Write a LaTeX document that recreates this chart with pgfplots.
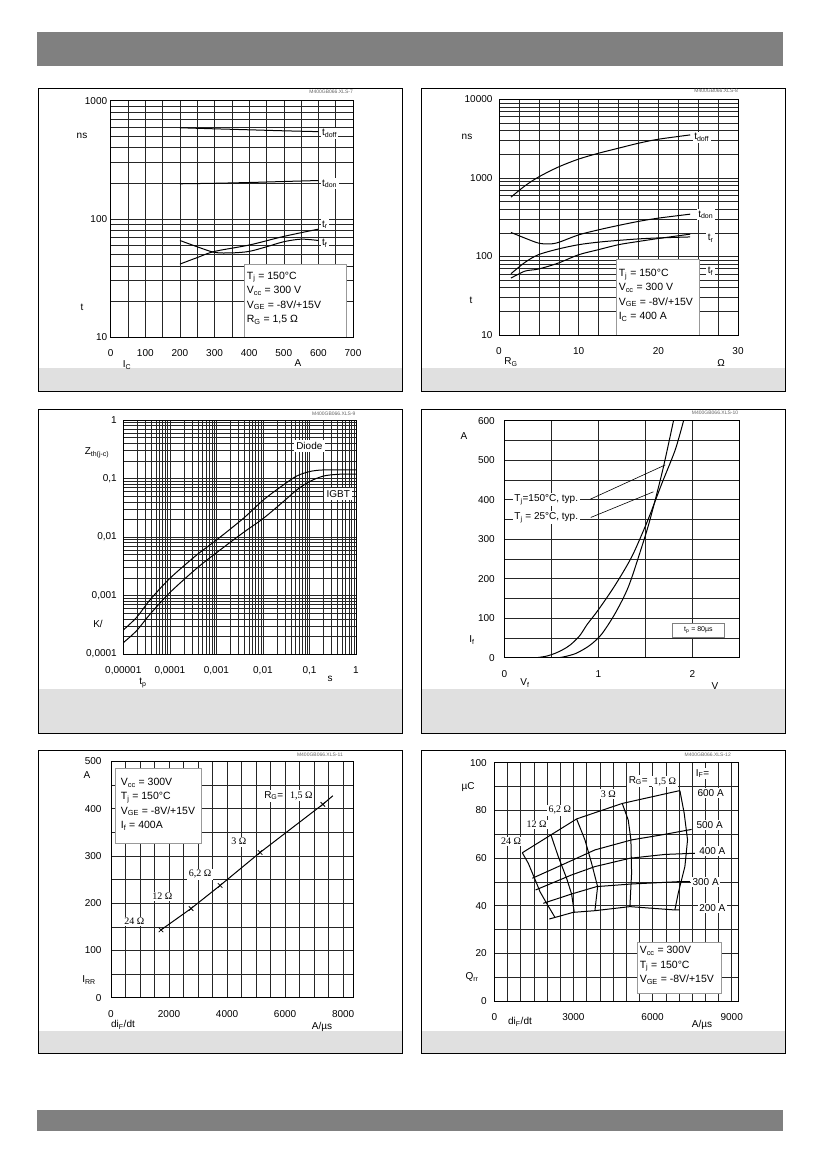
\documentclass[border=0pt]{standalone}
\usepackage{fontspec}
\setmainfont{Liberation Sans}
\newfontfamily\tms{Liberation Serif}
\usepackage{pgfplots}
\pgfplotsset{compat=1.18}
\newcommand{\sub}[1]{\textsubscript{#1}}
\newcommand{\fa}{\fontsize{10}{12}\selectfont}
\newcommand{\fb}{\fontsize{10.5}{14.4}\selectfont}
\newcommand{\fs}{\fontsize{5}{6}\selectfont}
\newcommand{\ft}{\tms\fontsize{10}{12}\selectfont}
\definecolor{hdr}{gray}{0.5}
\definecolor{strip}{gray}{0.88}
\pgfplotsset{
 dsheet/.style={
  scale only axis, anchor=south west,
  axis line style={line width=0.8pt},
  grid=both,
  major grid style={black!85,line width=0.5pt},
  minor grid style={black!85,line width=0.5pt},
  major tick length=0pt, minor tick length=0pt,
  ticklabel style={font=\fa},
  xticklabel style={yshift=-9pt},
  /pgf/number format/assume math mode=true,
  /pgf/number format/1000 sep={},
 },
 cv/.style={black, line width=1pt},
}
\tikzset{lab/.style={fill=white, inner sep=1.5pt, font=\fa}}
\begin{document}
\begin{tikzpicture}[x=1pt,y=1pt]
\path[use as bounding box] (0,0) rectangle (826,1169);
\fill[white] (0,0) rectangle (826,1169);
\fill[hdr] (37,1103) rectangle (783,1137);
\fill[hdr] (37,38) rectangle (783,59);
\foreach \x in {38,421} {
  \foreach \yb/\yt/\g in {778/1081/801, 436/760/480, 116/419/138} {
    \fill[strip] (\x,\yb) rectangle (\x+364,\g);
    \draw[line width=0.8pt] (\x,\yb) rectangle (\x+364,\yt);
  }
}
% ---------------- chart 1
\begin{axis}[dsheet, at={(110.7pt,832pt)}, width=242.3pt, height=236.3pt,
 xmin=0, xmax=700, ymode=log, ymin=10, ymax=1000,
 xtick={0,100,...,700}, minor x tick num=1,
 ytick={10,100,1000}, yticklabels={10,100,1000},
 minor ytick={20,30,40,50,60,70,80,90,200,300,400,500,600,700,800,900}]
\addplot[cv, smooth] coordinates {(200,590) (300,578) (400,567) (500,556) (600,547)};
\addplot[cv, smooth] coordinates {(200,198) (300,200) (400,203) (500,207) (600,211)};
\addplot[cv, smooth] coordinates {(200,41.4) (250,47) (300,53) (400,60) (500,71) (600,81.8)};
\addplot[cv, smooth] coordinates {(200,65.6) (250,58) (300,52) (350,51.5) (400,53) (450,58) (500,64) (550,67.3) (600,65.6)};
\node[lab, anchor=west] at (axis cs:606,530) {t\sub{doff}};
\node[lab, anchor=west] at (axis cs:606,198) {t\sub{don}};
\node[lab, anchor=west] at (axis cs:606,89) {t\sub{r}};
\node[lab, anchor=west] at (axis cs:606,62) {t\sub{f}};
\draw[fill=white, draw=black!40] (axis cs:387,10) rectangle (axis cs:679,41.7);
\node[anchor=north west, align=left, font=\fb, inner sep=0pt, xshift=2pt, yshift=-8pt] at (axis cs:387,41.7)
 {T\sub{j} = 150°C\\ V\sub{cc} = 300 V\\ V\sub{GE} = -8V/+15V\\ R\sub{G} = 1,5 Ω};
\draw[line width=0.8pt] (rel axis cs:0,0) rectangle (rel axis cs:1,1);
\end{axis}
\node[font=\fa] at (82,1033) {ns};
\node[font=\fa] at (82,862) {t};
\node[font=\fa] at (127,804) {I\sub{C}};
\node[font=\fa] at (298,806) {A};
\node[anchor=east, font=\fs, text=black!60, inner sep=0pt] at (353,1077.5) {M400GB066.XLS-7};
% ---------------- chart 2
\begin{axis}[dsheet, at={(499pt,834pt)}, width=239pt, height=235.7pt,
 yticklabel style={xshift=-3pt},
 xmin=0, xmax=30, ymode=log, ymin=10, ymax=10000,
 xtick={0,10,20,30}, minor x tick num=3,
 ytick={10,100,1000,10000}, yticklabels={10,100,1000,10000},
 minor ytick={20,30,40,50,60,70,80,90,200,300,400,500,600,700,800,900,2000,3000,4000,5000,6000,7000,8000,9000}]
\addplot[cv, smooth] coordinates {(1.5,568) (3.26,791) (4.93,1020) (7.4,1366) (9.95,1727) (12.5,2058) (15,2384) (17.5,2757) (20,3100) (24,3520)};
\addplot[cv, smooth] coordinates {(1.5,202) (3.26,171) (4.93,148) (6.2,144) (7.4,150) (10,188) (12.5,218) (15,248) (17.5,279) (20,307) (24,345)};
\addplot[cv, smooth] coordinates {(1.5,60.2) (3.26,84) (4.93,105) (7.4,124) (10,141) (12.5,152) (15,160) (17.5,167) (20,172) (24,177)};
\addplot[cv, smooth] coordinates {(1.5,53) (3.26,65) (4.93,69) (7.4,82) (10,105) (12.5,122) (15,141) (17.5,155) (20,169) (24,192)};
\node[lab, anchor=west] at (axis cs:24.3,3300) {t\sub{doff}};
\node[lab, anchor=west] at (axis cs:24.8,340) {t\sub{don}};
\node[lab, anchor=west] at (axis cs:26,171) {t\sub{r}};
\node[lab, anchor=west] at (axis cs:26,64.5) {t\sub{f}};
\draw[fill=white, draw=black!40] (axis cs:14.7,10) rectangle (axis cs:25.1,93);
\node[anchor=north west, align=left, font=\fb, inner sep=0pt, xshift=2.5pt, yshift=-10pt] at (axis cs:14.7,93)
 {T\sub{j} = 150°C\\ V\sub{cc} = 300 V\\ V\sub{GE} = -8V/+15V\\ I\sub{C} = 400 A};
\draw[line width=0.8pt] (rel axis cs:0,0) rectangle (rel axis cs:1,1);
\end{axis}
\node[font=\fa] at (467,1032) {ns};
\node[font=\fa] at (471,869) {t};
\node[font=\fa] at (511,807) {R\sub{G}};
\node[font=\fa] at (721,806) {Ω};
\node[anchor=east, font=\fs, text=black!60, inner sep=0pt] at (738,1078) {M400GB066.XLS-8};
% ---------------- chart 3
\begin{axis}[dsheet, at={(123.3pt,515pt)}, width=232.7pt, height=234pt,
 yticklabel style={xshift=-3pt},
 xmode=log, ymode=log, xmin=1e-5, xmax=1, ymin=1e-4, ymax=1,
 xtick={1e-5,1e-4,1e-3,1e-2,1e-1,1}, xticklabels={{0,00001},{0,0001},{0,001},{0,01},{0,1},1},
 ytick={1e-4,1e-3,1e-2,1e-1,1}, yticklabels={{0,0001},{0,001},{0,01},{0,1},1},
 minor xtick={2e-5,3e-5,4e-5,5e-5,6e-5,7e-5,8e-5,9e-5,2e-4,3e-4,4e-4,5e-4,6e-4,7e-4,8e-4,9e-4,2e-3,3e-3,4e-3,5e-3,6e-3,7e-3,8e-3,9e-3,0.02,0.03,0.04,0.05,0.06,0.07,0.08,0.09,0.2,0.3,0.4,0.5,0.6,0.7,0.8,0.9},
 minor ytick={2e-4,3e-4,4e-4,5e-4,6e-4,7e-4,8e-4,9e-4,2e-3,3e-3,4e-3,5e-3,6e-3,7e-3,8e-3,9e-3,0.02,0.03,0.04,0.05,0.06,0.07,0.08,0.09,0.2,0.3,0.4,0.5,0.6,0.7,0.8,0.9}]
\addplot[cv, smooth] coordinates {(1e-5,2.57e-4) (1.94e-5,4.24e-4) (3.74e-5,8.4e-4) (1e-4,1.96e-3) (3.77e-4,4.92e-3) (1.01e-3,8.9e-3) (3.79e-3,0.0208) (0.0102,0.0429) (0.0274,0.0774) (0.0531,0.110) (0.0993,0.131) (0.199,0.140) (1,0.140)};
\addplot[cv, smooth] coordinates {(1e-5,1.56e-4) (1.94e-5,2.51e-4) (3.74e-5,4.77e-4) (1e-4,1.12e-3) (3.77e-4,2.91e-3) (1.01e-3,5.4e-3) (3.79e-3,0.0119) (0.0102,0.0208) (0.0274,0.0402) (0.0531,0.0635) (0.0993,0.0883) (0.199,0.110) (0.42,0.118) (1,0.119)};
\node[lab, inner sep=2.5pt] at (axis cs:0.0993,0.36) {Diode};
\node[lab, inner sep=2.5pt] at (axis cs:0.417,0.0536) {IGBT};
\draw[line width=0.8pt] (rel axis cs:0,0) rectangle (rel axis cs:1,1);
\end{axis}
\node[font=\fa] at (97,716) {Z\sub{th(j-c)}};
\node[font=\fa] at (98,545) {K/};
\node[font=\fa] at (143,486) {t\sub{p}};
\node[font=\fa] at (330,490) {s};
\node[anchor=east, font=\fs, text=black!60, inner sep=0pt] at (355.7,755.5) {M400GB066.XLS-9};
% ---------------- chart 4
\begin{axis}[dsheet, at={(504.3pt,511.3pt)}, width=235pt, height=237pt,
 yticklabel style={xshift=-6pt},
 xmin=0, xmax=2.5, ymin=0, ymax=600,
 xtick={0,1,2}, minor x tick num=1,
 ytick={0,100,...,600}, minor y tick num=1]
\addplot[cv, smooth] coordinates {(0.344,0) (0.45,4) (0.54,11) (0.62,20) (0.70,32) (0.80,55) (0.884,85) (1.0,121) (1.18,184) (1.357,256) (1.506,336) (1.55,362) (1.676,441) (1.818,526) (1.907,600)};
\addplot[cv, smooth] coordinates {(0.582,0) (0.65,3) (0.753,10) (0.85,22) (0.93,35) (1.037,60) (1.179,112) (1.321,180) (1.463,281) (1.534,336) (1.605,399) (1.694,484) (1.80,600)};
\node[lab, anchor=west] at (axis cs:0.09,400) {T\sub{j}=150°C, typ.};
\node[lab, anchor=west] at (axis cs:0.09,355) {T\sub{j} = 25°C, typ.};
\draw[black, line width=0.6pt] (axis cs:0.913,401) -- (axis cs:1.712,488);
\draw[black, line width=0.6pt] (axis cs:0.92,355) -- (axis cs:1.587,420);
\node[draw=black!50, fill=white, font=\fontsize{7}{8}\selectfont, minimum width=52pt, minimum height=14pt, inner sep=1pt] at (axis cs:2.065,70) {t\sub{p} = 80µs};
\draw[line width=0.8pt] (rel axis cs:0,0) rectangle (rel axis cs:1,1);
\end{axis}
\node[font=\fa] at (464,733) {A};
\node[font=\fa] at (472,529) {I\sub{f}};
\node[font=\fa] at (525,486) {V\sub{f}};
\node[font=\fa] at (715,483) {V};
\node[anchor=east, font=\fs, text=black!60, inner sep=0pt] at (738.3,756) {M400GB066.XLS-10};
% ---------------- chart 5
\begin{axis}[dsheet, at={(111pt,171.3pt)}, width=242.3pt, height=236.4pt,
 yticklabel style={xshift=-6pt},
 xmin=0, xmax=8350, ymin=0, ymax=500,
 xtick={0,2000,...,8000}, minor x tick num=3,
 ytick={0,100,...,500}, minor y tick num=1]
\addplot[cv] coordinates {(1724,143.4) (2759,188.6) (3759,237.3) (5138,307.2) (7299,408.9) (7644,427)};
\addplot[black, only marks, mark=x, mark size=3.2pt, mark options={line width=0.8pt}] coordinates {(1724,143.4) (2759,188.6) (3759,237.3) (5138,307.2) (7299,408.9)};
\node[lab, font=\ft] at (axis cs:805,161) {24 Ω};
\node[lab, font=\ft] at (axis cs:1770,214) {12 Ω};
\node[lab, font=\ft] at (axis cs:3069,261) {6,2 Ω};
\node[lab, font=\ft] at (axis cs:4402,330) {3 Ω};
\node[lab] at (axis cs:5609,427) {R\sub{G}=};
\node[lab, font=\ft] at (axis cs:6563,427) {1,5 Ω};
\draw[fill=white, draw=black!40] (axis cs:161,327) rectangle (axis cs:3103,486);
\node[anchor=north west, align=left, font=\fb, inner sep=0pt, xshift=5pt, yshift=-10pt] at (axis cs:161,486)
 {V\sub{cc} = 300V\\ T\sub{j} = 150°C\\ V\sub{GE} = -8V/+15V\\ I\sub{f} = 400A};
\draw[line width=0.8pt] (rel axis cs:0,0) rectangle (rel axis cs:1,1);
\end{axis}
\node[font=\fa] at (87,394) {A};
\node[font=\fa] at (89,189) {I\sub{RR}};
\node[font=\fa] at (123,144) {di\sub{F}/dt};
\node[font=\fa] at (322,142) {A/µs};
\node[anchor=east, font=\fs, text=black!60, inner sep=0pt] at (343,414.5) {M400GB066.XLS-11};
% ---------------- chart 6
\begin{axis}[dsheet, at={(494.3pt,168pt)}, width=244pt, height=238.3pt,
 yticklabel style={xshift=-4pt},
 xmin=0, xmax=9250, ymin=0, ymax=100,
 xtick={0,3000,6000,9000}, minor x tick num=5,
 ytick={0,20,...,100}, minor y tick num=1]
% iso-current lines
\addplot[cv] coordinates {(1061,62.2) (2147,69.7) (3120,76.4) (4850,82.9) (7035,88.3)};
\addplot[cv] coordinates {(1440,51.5) (2425,56.4) (3815,63.4) (5204,67.6) (6341,69.7) (7477,72.0)};
\addplot[cv] coordinates {(1566,46.6) (2930,52.9) (3815,56.4) (5141,59.9) (6467,61.5) (7604,62.0)};
\addplot[cv] coordinates {(1857,41.0) (2930,44.9) (3878,48.0) (5204,49.1) (7035,50.1) (7414,50.1)};
\addplot[cv] coordinates {(2084,34.4) (2993,37.2) (3815,37.9) (5141,39.6) (6846,38.2) (7035,38.2)};
% iso-RG lines
\addplot[cv] coordinates {(1061,62.2) (1288,57.8) (1604,49.4) (1730,45.9) (1983,41.0) (2299,35.1)};
\addplot[cv] coordinates {(2147,69.7) (2425,60.6) (2741,51.5) (2930,44.9) (3031,37.2)};
\addplot[cv] coordinates {(3120,76.4) (3436,67.6) (3688,57.8) (3916,48.0) (3815,37.9)};
\addplot[cv] coordinates {(4850,82.9) (5078,75.9) (5179,67.6) (5204,53.6) (5141,39.6)};
\addplot[cv] coordinates {(7035,88.3) (7200,78.7) (7326,67.6) (7225,56.4) (6972,45.2) (6846,38.2)};
\node[lab, font=\ft] at (axis cs:632,66.9) {24 Ω};
\node[lab, font=\ft] at (axis cs:1604,74.1) {12 Ω};
\node[lab, font=\ft] at (axis cs:2488,80.1) {6,2 Ω};
\node[lab, font=\ft] at (axis cs:4320,86.9) {3 Ω};
\node[lab] at (axis cs:5457,92.4) {R\sub{G}=};
\node[lab, font=\ft] at (axis cs:6467,92.0) {1,5 Ω};
\node[lab, anchor=west] at (axis cs:7579,95.5) {I\sub{F}=};
\node[lab, anchor=west] at (axis cs:7642,87.1) {600 A};
\node[lab, anchor=west] at (axis cs:7604,73.8) {500 A};
\node[lab, anchor=west] at (axis cs:7705,63.1) {400 A};
\node[lab, anchor=west] at (axis cs:7452,50.1) {300 A};
\node[lab, anchor=west] at (axis cs:7705,38.9) {200 A};
\draw[fill=white, draw=black!40] (axis cs:5431,3.2) rectangle (axis cs:8614,24.6);
\node[anchor=north west, align=left, font=\fb, inner sep=0pt, xshift=2pt, yshift=-4pt] at (axis cs:5431,24.6)
 {V\sub{cc} = 300V\\ T\sub{j} = 150°C\\ V\sub{GE} = -8V/+15V};
\draw[line width=0.8pt] (rel axis cs:0,0) rectangle (rel axis cs:1,1);
\end{axis}
\node[font=\fa] at (468,382) {µC};
\node[font=\fa] at (472,192) {Q\sub{rr}};
\node[font=\fa] at (520,147) {di\sub{F}/dt};
\node[font=\fa] at (702,144) {A/µs};
\node[anchor=east, font=\fs, text=black!60, inner sep=0pt] at (731,414.5) {M400GB066.XLS-12};
\end{tikzpicture}
\end{document}
